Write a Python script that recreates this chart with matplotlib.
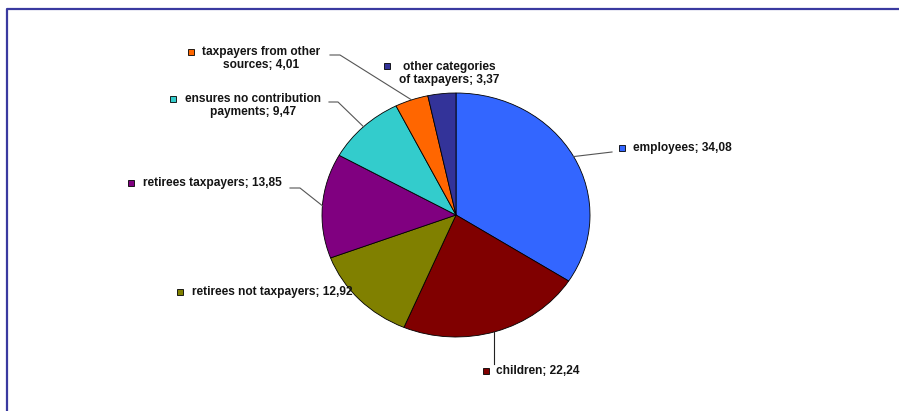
import matplotlib
matplotlib.use("Agg")
import matplotlib.pyplot as plt
import numpy as np

# ---- data ----
categories = ["employees", "children", "retirees not taxpayers", "retirees taxpayers",
              "ensures no contribution payments", "taxpayers from other sources",
              "other categories of taxpayers"]
values = [34.08, 22.24, 12.92, 13.85, 9.47, 4.01, 3.37]
label_texts = ["employees; 34,08", "children; 22,24", "retirees not taxpayers; 12,92",
               "retirees taxpayers; 13,85", "ensures no contribution\npayments; 9,47",
               "taxpayers from other\nsources; 4,01", "other categories\nof taxpayers; 3,37"]
colors = ["#3366FF", "#800000", "#808000", "#800080", "#33CCCC", "#FF6600", "#333399"]

W, H = 899, 411
fig = plt.figure(figsize=(W / 100, H / 100), dpi=100)
plt.rcParams['font.family'] = ['Liberation Sans', 'DejaVu Sans']

# pie geometry (pixels, top-left origin)
cx, cy, rx, ry = 456, 215, 134, 122

# pie axes (elliptical)
pax = fig.add_axes([(cx - rx) / W, (H - cy - ry) / H, 2 * rx / W, 2 * ry / H])
wedges, _ = pax.pie(values, colors=colors, startangle=90, counterclock=False,
                    radius=1.0, wedgeprops=dict(edgecolor="black", linewidth=0.6))
pax.set_aspect('auto')
pax.set_xlim(-1, 1)
pax.set_ylim(-1, 1)
pax.axis('off')

# overlay axes in pixel coordinates
ox = fig.add_axes([0, 0, 1, 1], zorder=5)
ox.set_xlim(0, W)
ox.set_ylim(H, 0)
ox.axis('off')
ox.patch.set_alpha(0)

# frame (clipped at right/bottom)
ox.plot([6.5, 6.5, W + 5], [H + 5, 8.8, 8.8], color="#3A3AA0", lw=1.6, clip_on=False)

def edge(i):
    w = wedges[i]
    ang = np.deg2rad((w.theta1 + w.theta2) / 2)
    return cx + rx * np.cos(ang), cy - ry * np.sin(ang)

fs = 8.6
tc = "#141414"
# label layout: (marker x, marker y, text x, text y, ha)
layout = {
    0: (622, 148, 633, 148, 'left'),
    1: (486, 371, 496, 371, 'left'),
    2: (180, 292, 192, 292, 'left'),
    3: (131, 183, 143, 183, 'left'),
    4: (173, 99, 253, 105.5, 'center'),
    5: (191, 52, 261, 58.5, 'center'),
    6: (387, 66, 449, 73.5, 'center'),
}
for i, (mx, my, tx, ty, ha) in layout.items():
    ox.plot([mx], [my], marker='s', ms=5, mfc=colors[i], mec='black', mew=0.6, ls='none')
    ox.text(tx, ty, label_texts[i], ha=ha, va='center', fontsize=fs, fontweight='bold',
            color=tc, multialignment='center', linespacing=1.05)

lc = "#555555"
# leaders
ex, ey = edge(0)
ox.plot([612, ex], [152, ey], color=lc, lw=0.8)
ex, ey = edge(1)
ox.plot([494, 494], [364, ey], color="#222222", lw=0.8)
ex, ey = edge(3)
ox.plot([290, 300, ex], [188, 188, ey], color=lc, lw=0.8)
ex, ey = edge(4)
ox.plot([329, 338, ex], [102, 102, ey], color=lc, lw=0.8)
ex, ey = edge(5)
ox.plot([330, 340, ex], [55, 55, ey], color=lc, lw=0.8)

fig.savefig("out.png", dpi=100, facecolor="white")
